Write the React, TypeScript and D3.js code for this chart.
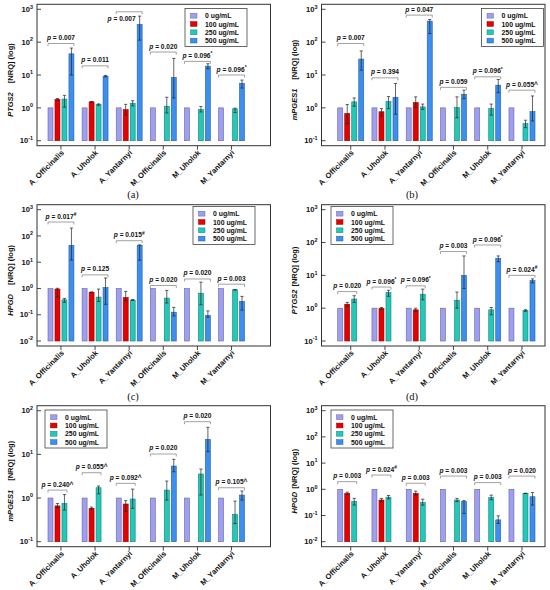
import React from 'react';
import * as d3 from 'd3';

const W = 550;
const H = 590;
const FONT = '"Liberation Sans", Arial, Helvetica, sans-serif';

const groups = ['A_Officinalis', 'A_Uholok', 'A_Yantarnyi', 'M_Officinalis', 'M_Uholok', 'M_Yantarnyi'];
const doses = ['0 ug/mL', '100 ug/mL', '250 ug/mL', '500 ug/mL'];
const doseColors = ['#9e9ef2', '#e60000', '#22c8b8', '#3a8ff0'];

type V = number | null;

// (a) PTGS2
const aMean: V[][] = [[1, 1.8, 1.85, 44], [1, 1.52, 1.26, 9.2], [1, 0.88, 1.38, 345], [1, null, 1.12, 8.4], [1, null, 0.89, 18.6], [1, null, 0.93, 5.6]];
const aLow: V[][] = [[null, 1.7, 1.05, 10], [null, 1.48, 1.2, 8.8], [null, 0.6, 1.15, 115], [null, null, 0.7, 2], [null, null, 0.75, 15.5], [null, null, 0.72, 4.0]];
const aHigh: V[][] = [[null, 1.92, 2.4, 66], [null, 1.56, 1.32, 9.7], [null, 1.28, 1.65, 620], [null, null, 2.1, 32], [null, null, 1.1, 22], [null, null, 0.98, 7.0]];
const aBracket = [91, 19, 840, 50, 26, 10];
const aPText = ['0.007', '0.011', '0.007', '0.020', '0.096*', '0.096*'];
const aLabelBelow: V[] = [null, null, 450, null, null, null];

// (b) mPGES1
const bMean: V[][] = [[1, 0.67, 1.52, 30.5], [1, 0.76, 1.55, 2.1], [1, 1.45, 1.07, 436], [1, null, 1.02, 2.6], [1, null, 0.95, 4.9], [1, null, 0.33, 0.77]];
const bLow: V[][] = [[null, 0.33, 1.12, 14], [null, 0.56, 0.95, 0.64], [null, 1.02, 0.9, 183], [null, null, 0.5, 1.9], [null, null, 0.6, 2.9], [null, null, 0.25, 0.4]];
const bHigh: V[][] = [[null, 1.26, 2.0, 54], [null, 0.95, 2.2, 5.5], [null, 2.16, 1.3, 490], [null, null, 2.16, 3.45], [null, null, 1.3, 7.3], [null, null, 0.42, 2.3]];
const bBracket = [91, 8.2, 665, 4.2, 8.8, 3.45];
const bPText = ['0.007', '0.394', '0.047', '0.059', '0.096*', '0.055^'];

// (c) HPGD
const cMean: V[][] = [[1, 0.95, 0.37, 44], [1, 0.72, 0.47, 1.09], [1, 0.45, 0.36, 44], [1, null, 0.43, 0.125], [1, null, 0.66, 0.094], [1, null, 0.89, 0.32]];
const cLow: V[][] = [[null, 0.47, 0.3, 12], [null, 0.7, 0.32, 0.25], [null, 0.34, 0.35, 12], [null, null, 0.28, 0.09], [null, null, 0.24, 0.08], [null, null, 0.87, 0.15]];
const cHigh: V[][] = [[null, 1.02, 0.42, 200], [null, 0.74, 0.95, 2.5], [null, 0.77, 0.38, 46], [null, null, 0.84, 0.19], [null, null, 1.75, 0.14], [null, null, 0.91, 0.5]];
const cBracket = [340, 3.3, 66, 1.3, 2.3, 1.46];
const cPText = ['0.017#', '0.125', '0.015#', '0.020', '0.020', '0.003'];

// (d) PTGS2
const dMean: V[][] = [[1, 1.32, 1.9, null], [1, 0.98, 3.0, null], [1, 0.89, 2.66, null], [1, null, 1.75, 10], [1, null, 0.89, 33], [1, null, 0.85, 6.9]];
const dLow: V[][] = [[null, 1.15, 1.5, null], [null, 0.92, 2.3, null], [null, 0.8, 1.8, null], [null, null, 1.0, 4], [null, null, 0.63, 26], [null, null, 0.8, 5.9]];
const dHigh: V[][] = [[null, 1.5, 2.4, null], [null, 1.05, 3.5, null], [null, 1.0, 3.8, null], [null, null, 3.1, 39], [null, null, 1.05, 39], [null, null, 0.9, 7.8]];
const dBracket = [3.2, 4.4, 4.8, 53, 84, 10];
const dPText = ['0.020', '0.096*', '0.096*', '0.003', '0.096*', '0.024#'];

// (e) mPGES1
const eMean: V[][] = [[1, 0.66, 0.75, null], [1, 0.58, 1.72, null], [1, 0.73, 0.95, null], [1, null, 1.52, 5.4], [1, null, 3.55, 22], [1, null, 0.42, 1.17]];
const eLow: V[][] = [[null, 0.6, 0.53, null], [null, 0.55, 1.25, null], [null, 0.49, 0.58, null], [null, null, 0.9, 4.0], [null, null, 1.17, 11.5], [null, null, 0.26, 0.9]];
const eHigh: V[][] = [[null, 0.75, 1.2, null], [null, 0.62, 1.88, null], [null, 0.87, 1.6, null], [null, null, 2.45, 7.7], [null, null, 4.6, 41.6], [null, null, 0.85, 1.45]];
const eBracket = [1.52, 3.8, 2.17, 10.2, 56, 1.72];
const ePText = ['0.240^', '0.055^', '0.092^', '0.020', '0.020', '0.105^'];

// (f) HPGD
const fMean: V[][] = [[1, 0.7, 0.34, null], [1, 0.39, 0.5, null], [1, 0.7, 0.31, null], [1, null, 0.39, 0.34], [1, null, 0.48, 0.068], [1, null, 0.7, 0.52]];
const fLow: V[][] = [[null, 0.63, 0.25, null], [null, 0.33, 0.43, null], [null, 0.6, 0.25, null], [null, null, 0.34, 0.12], [null, null, 0.4, 0.05], [null, null, 0.69, 0.25]];
const fHigh: V[][] = [[null, 0.78, 0.45, null], [null, 0.45, 0.58, null], [null, 0.85, 0.42, null], [null, null, 0.45, 0.37], [null, null, 0.6, 0.097], [null, null, 0.71, 0.75]];
const fBracket = [1.96, 3.5, 1.7, 3.2, 1.8, 3.2];
const fPText = ['0.003', '0.024#', '0.003', '0.003', '0.003', '0.020'];

type PanelCfg = {
  key: string;
  gene: string;
  wideGap: boolean;
  col: number;
  row: number;
  exps: [number, number];
  mean: V[][];
  low: V[][];
  high: V[][];
  bracket: number[];
  ptext: string[];
  labelBelow?: V[];
  legend: [number, number];
  caption?: [string, number, number];
};

const panels: PanelCfg[] = [
  { key: 'a', gene: 'PTGS2', wideGap: true, col: 0, row: 0, exps: [-1, 3], mean: aMean, low: aLow, high: aHigh, bracket: aBracket, ptext: aPText, labelBelow: aLabelBelow, legend: [185, 8.5], caption: ['(a)', 133, 198] },
  { key: 'b', gene: 'mPGES1', wideGap: true, col: 1, row: 0, exps: [-1, 3], mean: bMean, low: bLow, high: bHigh, bracket: bBracket, ptext: bPText, legend: [481.5, 8.5], caption: ['(b)', 412, 198] },
  { key: 'c', gene: 'HPGD', wideGap: true, col: 0, row: 1, exps: [-2, 3], mean: cMean, low: cLow, high: cHigh, bracket: cBracket, ptext: cPText, legend: [193, 206.5], caption: ['(c)', 133, 400] },
  { key: 'd', gene: 'PTGS2', wideGap: false, col: 1, row: 1, exps: [-1, 3], mean: dMean, low: dLow, high: dHigh, bracket: dBracket, ptext: dPText, legend: [331, 206.5], caption: ['(d)', 412, 400] },
  { key: 'e', gene: 'mPGES1', wideGap: true, col: 0, row: 2, exps: [-1, 2], mean: eMean, low: eLow, high: eHigh, bracket: eBracket, ptext: ePText, legend: [45, 410] },
  { key: 'f', gene: 'HPGD', wideGap: false, col: 1, row: 2, exps: [-2, 3], mean: fMean, low: fLow, high: fHigh, bracket: fBracket, ptext: fPText, legend: [331, 410] },
];

const cols = [
  { frame: [37, 270.5], band: [43.9, 248.6] },
  { frame: [321.5, 545], band: [333.6, 539.1] },
];
const rows = [
  { ticks: [9.3, 140.7] },
  { ticks: [209.7, 341] },
  { ticks: [410.7, 541.7] },
];

function PText({ s, x, y, anchor }: { s: string; x: number; y: number; anchor: string }) {
  const last = s[s.length - 1];
  const sup = last === '*' || last === '#';
  const main = sup ? s.slice(0, -1) : s;
  return (
    <text x={x} y={y} textAnchor={anchor} fontSize={6.6} fontWeight="bold" fontFamily={FONT} fill="#111">
      <tspan fontStyle="italic">p</tspan>
      <tspan>{' = ' + main}</tspan>
      {sup ? (
        <tspan dy={-2.4} fontSize={4.8}>{last}</tspan>
      ) : null}
    </text>
  );
}

function PanelView({ p }: { p: PanelCfg }) {
  const col = cols[p.col];
  const row = rows[p.row];
  const fx0 = col.frame[0];
  const fx1 = col.frame[1];
  const top = row.ticks[0] - 5;
  const bottom = row.ticks[1] + 5;
  const y = d3.scaleLog().domain([Math.pow(10, p.exps[0]), Math.pow(10, p.exps[1])]).range([row.ticks[1], row.ticks[0]]);
  const x = d3.scaleBand<string>().domain(groups).range(col.band as [number, number]).paddingInner(0.24).paddingOuter(0.12);
  const xi = d3.scaleBand<string>().domain(doses).range([0, x.bandwidth()]).paddingInner(0.286).paddingOuter(0);
  const base = y(Math.pow(10, p.exps[0]));
  const tickExps = d3.range(p.exps[0], p.exps[1] + 1);
  const bw = xi.bandwidth();
  const cap = 1.6;
  const titleY = (row.ticks[0] + row.ticks[1]) / 2 + 5;

  return (
    <g>
      {/* bars */}
      {groups.map((g, gi) =>
        doses.map((d, di) => {
          const v = p.mean[gi][di];
          if (v == null) return null;
          const bx = (x(g) as number) + (xi(d) as number);
          const by = y(v);
          return (
            <rect key={g + d} x={bx} y={Math.min(by, base)} width={bw} height={Math.abs(base - by)}
              fill={doseColors[di]} stroke={d3.color(doseColors[di])!.darker(1.2).formatHex()} strokeWidth={0.6} />
          );
        })
      )}
      {/* error bars */}
      {groups.map((g, gi) =>
        doses.map((d, di) => {
          const lo = p.low[gi][di];
          const hi = p.high[gi][di];
          if (lo == null || hi == null) return null;
          const cx = (x(g) as number) + (xi(d) as number) + bw / 2;
          return (
            <g key={'e' + g + d} stroke="#222" strokeWidth={0.7}>
              <line x1={cx} x2={cx} y1={y(lo)} y2={y(hi)} />
              <line x1={cx - cap} x2={cx + cap} y1={y(lo)} y2={y(lo)} />
              <line x1={cx - cap} x2={cx + cap} y1={y(hi)} y2={y(hi)} />
            </g>
          );
        })
      )}
      {/* brackets and p-values */}
      {groups.map((g, gi) => {
        const present = doses.filter((_, di) => p.mean[gi][di] != null);
        const lastDose = present[present.length - 1];
        const x0 = (x(g) as number) + (xi(doses[0]) as number);
        const x1 = (x(g) as number) + (xi(lastDose) as number) + bw;
        const by = y(p.bracket[gi]);
        const below = p.labelBelow ? p.labelBelow[gi] : null;
        return (
          <g key={'b' + g}>
            <path d={`M${x0},${by + 2.5}V${by}H${x1}V${by + 2.5}`} fill="none" stroke="#8a8a8a" strokeWidth={0.8} />
            {below != null ? (
              <PText s={p.ptext[gi]} x={(x(g) as number) + (xi(lastDose) as number) - 1.5} y={y(below)} anchor="end" />
            ) : (
              <PText s={p.ptext[gi]} x={(x0 + x1) / 2} y={by - 3.5} anchor="middle" />
            )}
          </g>
        );
      })}
      {/* frame */}
      <rect x={fx0} y={top} width={fx1 - fx0} height={bottom - top} fill="none" stroke="#333" strokeWidth={1} />
      {/* y ticks */}
      {tickExps.map((e) => {
        const ty = y(Math.pow(10, e));
        return (
          <g key={'t' + e}>
            <line x1={fx0} x2={fx0 + 4} y1={ty} y2={ty} stroke="#333" strokeWidth={0.9} />
            <text x={fx0 - 4} y={ty + 2.7} textAnchor="end" fontFamily={FONT} fontWeight="bold" fontSize={7.6} fill="#111">
              10<tspan dy={-3.4} fontSize={5.4}>{String(e)}</tspan>
            </text>
          </g>
        );
      })}
      {/* x ticks + labels */}
      {groups.map((g) => {
        const cx = (x(g) as number) + x.bandwidth() / 2;
        return (
          <g key={'x' + g}>
            <line x1={cx} x2={cx} y1={bottom} y2={bottom + 4} stroke="#333" strokeWidth={0.9} />
            <text transform={`translate(${cx + 3.5},${bottom + 7.5}) rotate(-45)`} textAnchor="end" fontFamily={FONT}
              fontWeight="bold" fontSize={7.6} fill="#111">{g}</text>
          </g>
        );
      })}
      {/* y title */}
      <text transform={`translate(${fx0 - 24.5},${titleY}) rotate(-90)`} textAnchor="middle" fontFamily={FONT}
        fontWeight="bold" fontSize={7.5} fill="#111">
        <tspan fontStyle="italic">{p.gene}</tspan>
        <tspan dx={p.wideGap ? 9 : 3}>[NRQ] (log)</tspan>
      </text>
      {/* legend */}
      <g transform={`translate(${p.legend[0]},${p.legend[1]})`}>
        <rect x={0} y={0} width={62} height={38} fill="#fff" stroke="#444" strokeWidth={0.8} />
        {doses.map((d, di) => (
          <g key={'l' + d} transform={`translate(0,${7.2 + di * 8.3})`}>
            <rect x={5.5} y={-2.4} width={6.5} height={4.8} fill={doseColors[di]} stroke={d3.color(doseColors[di])!.darker(1.2).formatHex()} strokeWidth={0.5} />
            <text x={20} y={2.5} fontFamily={FONT} fontWeight="bold" fontSize={6.9} fill="#111">{d}</text>
          </g>
        ))}
      </g>
      {p.caption ? (
        <text x={p.caption[1]} y={p.caption[2]} textAnchor="middle" fontFamily='"Liberation Serif", "Times New Roman", serif' fontSize={10.5} fill="#111">{p.caption[0]}</text>
      ) : null}
    </g>
  );
}

export default function App() {
  return (
    <svg width={W} height={H} viewBox={`0 0 ${W} ${H}`} style={{ position: 'absolute', left: 0, top: 0, background: '#fff' }}>
      <rect x={0} y={0} width={W} height={H} fill="#fff" />
      {panels.map((p) => (
        <PanelView key={p.key} p={p} />
      ))}
    </svg>
  );
}
